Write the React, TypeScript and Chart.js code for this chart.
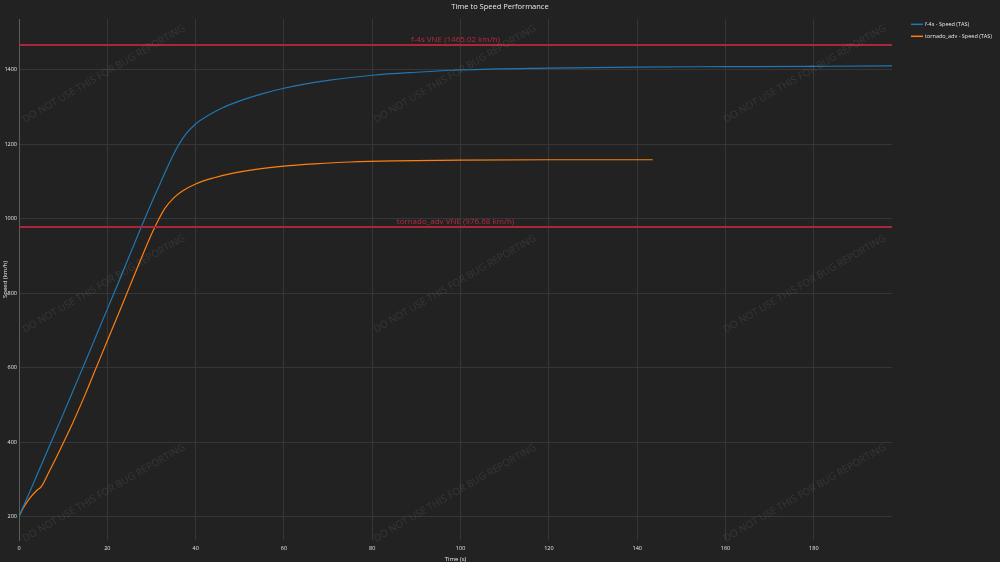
import React, { useEffect, useRef } from "react";
import { Chart, registerables } from "chart.js";

Chart.register(...registerables);

// ---- data ----
const chartTitle = "Time to Speed Performance";
const xAxisTitle = "Time (s)";
const yAxisTitle = "Speed (km/h)";

const seriesNames = ["f-4s - Speed (TAS)", "tornado_adv - Speed (TAS)"];
const seriesColors = ["#1f77b4", "#ff7f0e"];

const f4sTime = [0, 2.5, 5, 7.5, 10, 12.5, 15, 17.5, 20, 22.5, 25, 27.5, 30, 32, 34, 36, 38, 40, 43, 46, 50, 55, 60, 70, 80, 90, 100, 120, 140, 160, 180, 197.7];
const f4sSpeed = [200, 268, 337, 406, 475, 545, 615, 686, 757, 828, 900, 972, 1042, 1095, 1148, 1195, 1230, 1254, 1278, 1297, 1316, 1335, 1350, 1371, 1385, 1393, 1399, 1404, 1407, 1408, 1409, 1410];

const tornadoTime = [0, 1, 2.5, 4, 5.1, 6.5, 8.5, 10, 12.2, 15, 17.5, 20, 22.8, 25, 27.5, 30, 31.5, 33, 35, 37, 40, 44, 48.5, 54, 60, 67, 75, 85, 100, 120, 143.5];
const tornadoSpeed = [200, 224, 250, 270, 281, 313, 360, 397, 452, 528, 600, 672, 752, 816, 888, 958, 995, 1027, 1055, 1074, 1093, 1109, 1122, 1133, 1141, 1147, 1152, 1155, 1157, 1158, 1158];

const xTicks = [0, 20, 40, 60, 80, 100, 120, 140, 160, 180];
const yTicks = [200, 400, 600, 800, 1000, 1200, 1400];
const xRange = [0, 197.7];
const yRange = [137, 1536];

const vneValues = [1465.02, 976.68];
const vneLabels = ["f-4s VNE (1465.02 km/h)", "tornado_adv VNE (976.68 km/h)"];

const watermarkText = "DO NOT USE THIS FOR BUG REPORTING";
const watermarkCols = [104, 455, 805];
const watermarkRows = [74, 284, 493];

const FONT = '"Open Sans", "DejaVu Sans", sans-serif';
const BG = "#222222";
const GRID = "#363636";
const TEXT = "#e8e8e8";
const RED = "#a8283a";

const overlayPlugin = {
  id: "overlay",
  beforeDraw(chart: any) {
    const ctx = chart.ctx;
    ctx.save();
    ctx.fillStyle = BG;
    ctx.fillRect(0, 0, chart.width, chart.height);
    ctx.restore();
  },
  afterDatasetsDraw(chart: any) {
    const ctx = chart.ctx;
    const area = chart.chartArea;
    const ys = chart.scales.y;
    const cx = (area.left + area.right) / 2;
    ctx.save();
    vneValues.forEach((v, i) => {
      const py = Math.round(ys.getPixelForValue(v));
      ctx.strokeStyle = RED;
      ctx.lineWidth = 2;
      ctx.beginPath();
      ctx.moveTo(area.left, py);
      ctx.lineTo(area.right, py);
      ctx.stroke();
      ctx.fillStyle = "#b82a3e";
      ctx.font = `8px ${FONT}`;
      ctx.textAlign = "center";
      ctx.textBaseline = "bottom";
      ctx.fillText(vneLabels[i], cx, py - 1);
    });
    // watermarks
    ctx.fillStyle = "rgba(255,255,255,0.09)";
    ctx.font = `10px ${FONT}`;
    ctx.textAlign = "center";
    ctx.textBaseline = "middle";
    watermarkRows.forEach((wy) => {
      watermarkCols.forEach((wx) => {
        ctx.save();
        ctx.translate(wx, wy);
        ctx.rotate(-Math.PI / 6);
        ctx.fillText(watermarkText, 0, 0);
        ctx.restore();
      });
    });
    ctx.restore();
  },
  afterDraw(chart: any) {
    const ctx = chart.ctx;
    const area = chart.chartArea;
    ctx.save();
    // title
    ctx.fillStyle = TEXT;
    ctx.font = `7.5px ${FONT}`;
    ctx.textAlign = "center";
    ctx.textBaseline = "middle";
    ctx.fillText(chartTitle, chart.width / 2, 7);
    // axis titles
    ctx.font = `6px ${FONT}`;
    ctx.fillText(xAxisTitle, (area.left + area.right) / 2, 559);
    ctx.save();
    ctx.translate(5, (area.top + area.bottom) / 2);
    ctx.rotate(-Math.PI / 2);
    ctx.fillText(yAxisTitle, 0, 0);
    ctx.restore();
    // legend
    ctx.font = `5.5px ${FONT}`;
    ctx.textAlign = "left";
    seriesNames.forEach((name, i) => {
      const ly = 24.3 + i * 12;
      ctx.strokeStyle = seriesColors[i];
      ctx.lineWidth = 1.5;
      ctx.beginPath();
      ctx.moveTo(911, ly);
      ctx.lineTo(923, ly);
      ctx.stroke();
      ctx.fillStyle = TEXT;
      ctx.fillText(name, 925, ly);
    });
    ctx.restore();
  },
};

export default function App() {
  const canvasRef = useRef<HTMLCanvasElement | null>(null);

  useEffect(() => {
    if (!canvasRef.current) return;
    const chart = new Chart(canvasRef.current, {
      type: "line",
      data: {
        datasets: [
          {
            label: seriesNames[0],
            data: f4sTime.map((t, i) => ({ x: t, y: f4sSpeed[i] })),
            borderColor: seriesColors[0],
            borderWidth: 1.2,
            pointRadius: 0,
            cubicInterpolationMode: "monotone",
          },
          {
            label: seriesNames[1],
            data: tornadoTime.map((t, i) => ({ x: t, y: tornadoSpeed[i] })),
            borderColor: seriesColors[1],
            borderWidth: 1.2,
            pointRadius: 0,
            cubicInterpolationMode: "monotone",
          },
        ],
      },
      options: {
        animation: false,
        responsive: false,
        maintainAspectRatio: false,
        layout: { padding: { top: 19, right: 108, bottom: 0, left: 0 } },
        plugins: {
          legend: { display: false },
          title: { display: false },
          tooltip: { enabled: false },
        },
        scales: {
          x: {
            type: "linear",
            min: xRange[0],
            max: xRange[1],
            afterBuildTicks: (s: any) => {
              s.ticks = xTicks.map((v) => ({ value: v }));
            },
            afterFit: (s: any) => {
              s.height = 22;
            },
            grid: { color: GRID, drawTicks: false, lineWidth: 1 },
            border: { display: false },
            ticks: {
              color: TEXT,
              font: { family: FONT, size: 5.5 },
              padding: 5,
              maxRotation: 0,
              autoSkip: false,
              callback: (v: any) => String(v),
            },
          },
          y: {
            type: "linear",
            min: yRange[0],
            max: yRange[1],
            afterBuildTicks: (s: any) => {
              s.ticks = yTicks.map((v) => ({ value: v }));
            },
            afterFit: (s: any) => {
              s.width = 19;
            },
            grid: { color: GRID, drawTicks: false, lineWidth: 1 },
            border: { display: true, color: "#5c5c5c", width: 1 },
            ticks: {
              color: TEXT,
              font: { family: FONT, size: 5.5 },
              padding: 2,
              autoSkip: false,
              callback: (v: any) => String(v),
            },
          },
        },
      },
      plugins: [overlayPlugin],
    } as any);
    return () => chart.destroy();
  }, []);

  return (
    <div style={{ position: "fixed", left: 0, top: 0, width: 1000, height: 562, background: BG }}>
      <canvas ref={canvasRef} width={1000} height={562} style={{ display: "block" }} />
    </div>
  );
}
